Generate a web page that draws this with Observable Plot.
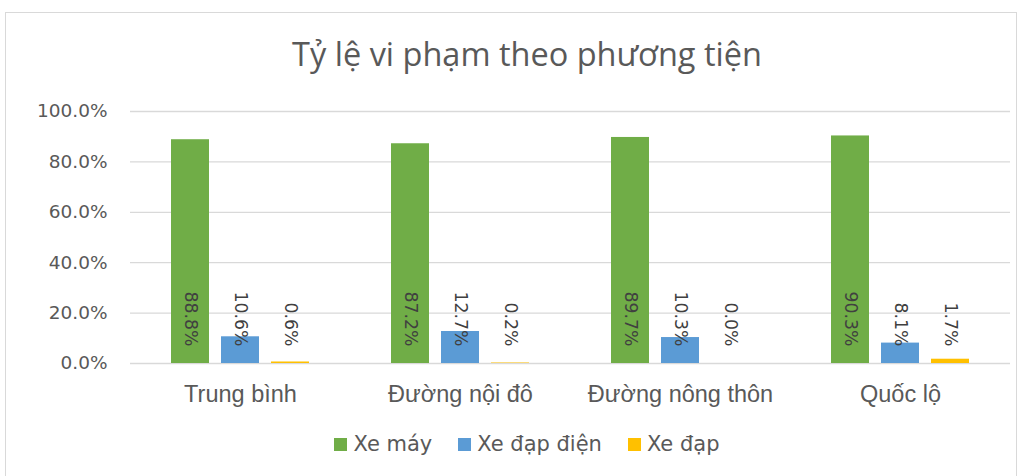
<!DOCTYPE html>
<html>
<head>
<meta charset="utf-8">
<script src="https://cdn.jsdelivr.net/npm/d3@7"></script>
<script src="https://cdn.jsdelivr.net/npm/@observablehq/plot@0.6"></script>
<style>
  html, body { margin: 0; padding: 0; background: #fff; }
  body { width: 1024px; height: 476px; position: relative; overflow: hidden; font-family: "DejaVu Sans", sans-serif; }
  #frame { position: absolute; left: 5px; top: 12px; width: 1012px; height: 470px; border: 1px solid #d9d9d9; box-sizing: border-box; }
  #title { position: absolute; left: 30px; width: 994px; top: 34px; text-align: center; font-family: "Open Sans", sans-serif; font-size: 32.5px; line-height: 40px; font-weight: 400; color: #595959; }
  #chart { position: absolute; left: 0; top: 100px; }
  #legend { position: absolute; left: 30px; width: 994px; top: 432px; display: flex; justify-content: center; gap: 26px; font-size: 21px; line-height: 24px; color: #595959; }
  .item { display: flex; align-items: center; }
  .sw { width: 13px; height: 13px; margin-right: 6px; }
</style>
</head>
<body>
<div id="frame"></div>
<div id="title"></div>
<div id="chart"></div>
<div id="legend"></div>
<script>
const titleText = "Tỷ lệ vi phạm theo phương tiện";
const categories = ["Trung bình", "Đường nội đô", "Đường nông thôn", "Quốc lộ"];
const series = ["Xe máy", "Xe đạp điện", "Xe đạp"];
const xeMay = [88.8, 87.2, 89.7, 90.3];
const xeDapDien = [10.6, 12.7, 10.3, 8.1];
const xeDap = [0.6, 0.2, 0.0, 1.7];
const yTicks = [0, 0.2, 0.4, 0.6, 0.8, 1.0];
const colors = ["#70AD47", "#5B9BD5", "#FFC000"];

const valuesBySeries = [xeMay, xeDapDien, xeDap];
const data = [];
categories.forEach((c, i) => {
  series.forEach((s, j) => {
    data.push({cat: c, series: s, value: valuesBySeries[j][i] / 100, label: valuesBySeries[j][i].toFixed(1) + "%"});
  });
});

document.getElementById("title").textContent = titleText;

const chart = Plot.plot({
  width: 1024,
  height: 310,
  marginTop: 11,
  marginBottom: 47,
  marginLeft: 130,
  marginRight: 14,
  style: {fontFamily: "DejaVu Sans", background: "transparent"},
  fx: {domain: categories, padding: 0, label: null, axis: null},
  x: {domain: series, paddingInner: 0.24, paddingOuter: 0.82, axis: null},
  y: {domain: [0, 1], axis: null},
  color: {domain: series, range: colors},
  marks: [
    Plot.gridY(yTicks, {stroke: "#d9d9d9", strokeOpacity: 1, strokeWidth: 1.3}),
    Plot.axisY(yTicks, {tickSize: 0, tickPadding: 23, tickFormat: d => (d * 100).toFixed(1) + "%", fontSize: 18.5, color: "#595959", label: null}),
    Plot.axisFx({anchor: "bottom", tickSize: 0, tickPadding: 22, fontSize: 23.5, fontFamily: "Liberation Sans", color: "#595959", label: null}),
    Plot.barY(data, {fx: "cat", x: "series", y: "value", fill: "series"}),
    Plot.text(data, {fx: "cat", x: "series", y: 0, text: "label", rotate: 90, textAnchor: "end", dy: -17, fontSize: 17.3, fill: "#404040"})
  ]
});
document.getElementById("chart").appendChild(chart);

const legend = document.getElementById("legend");
series.forEach((s, j) => {
  const it = document.createElement("div");
  it.className = "item";
  const sw = document.createElement("div");
  sw.className = "sw";
  sw.style.background = colors[j];
  const t = document.createElement("span");
  t.textContent = s;
  it.appendChild(sw);
  it.appendChild(t);
  legend.appendChild(it);
});
</script>
</body>
</html>
